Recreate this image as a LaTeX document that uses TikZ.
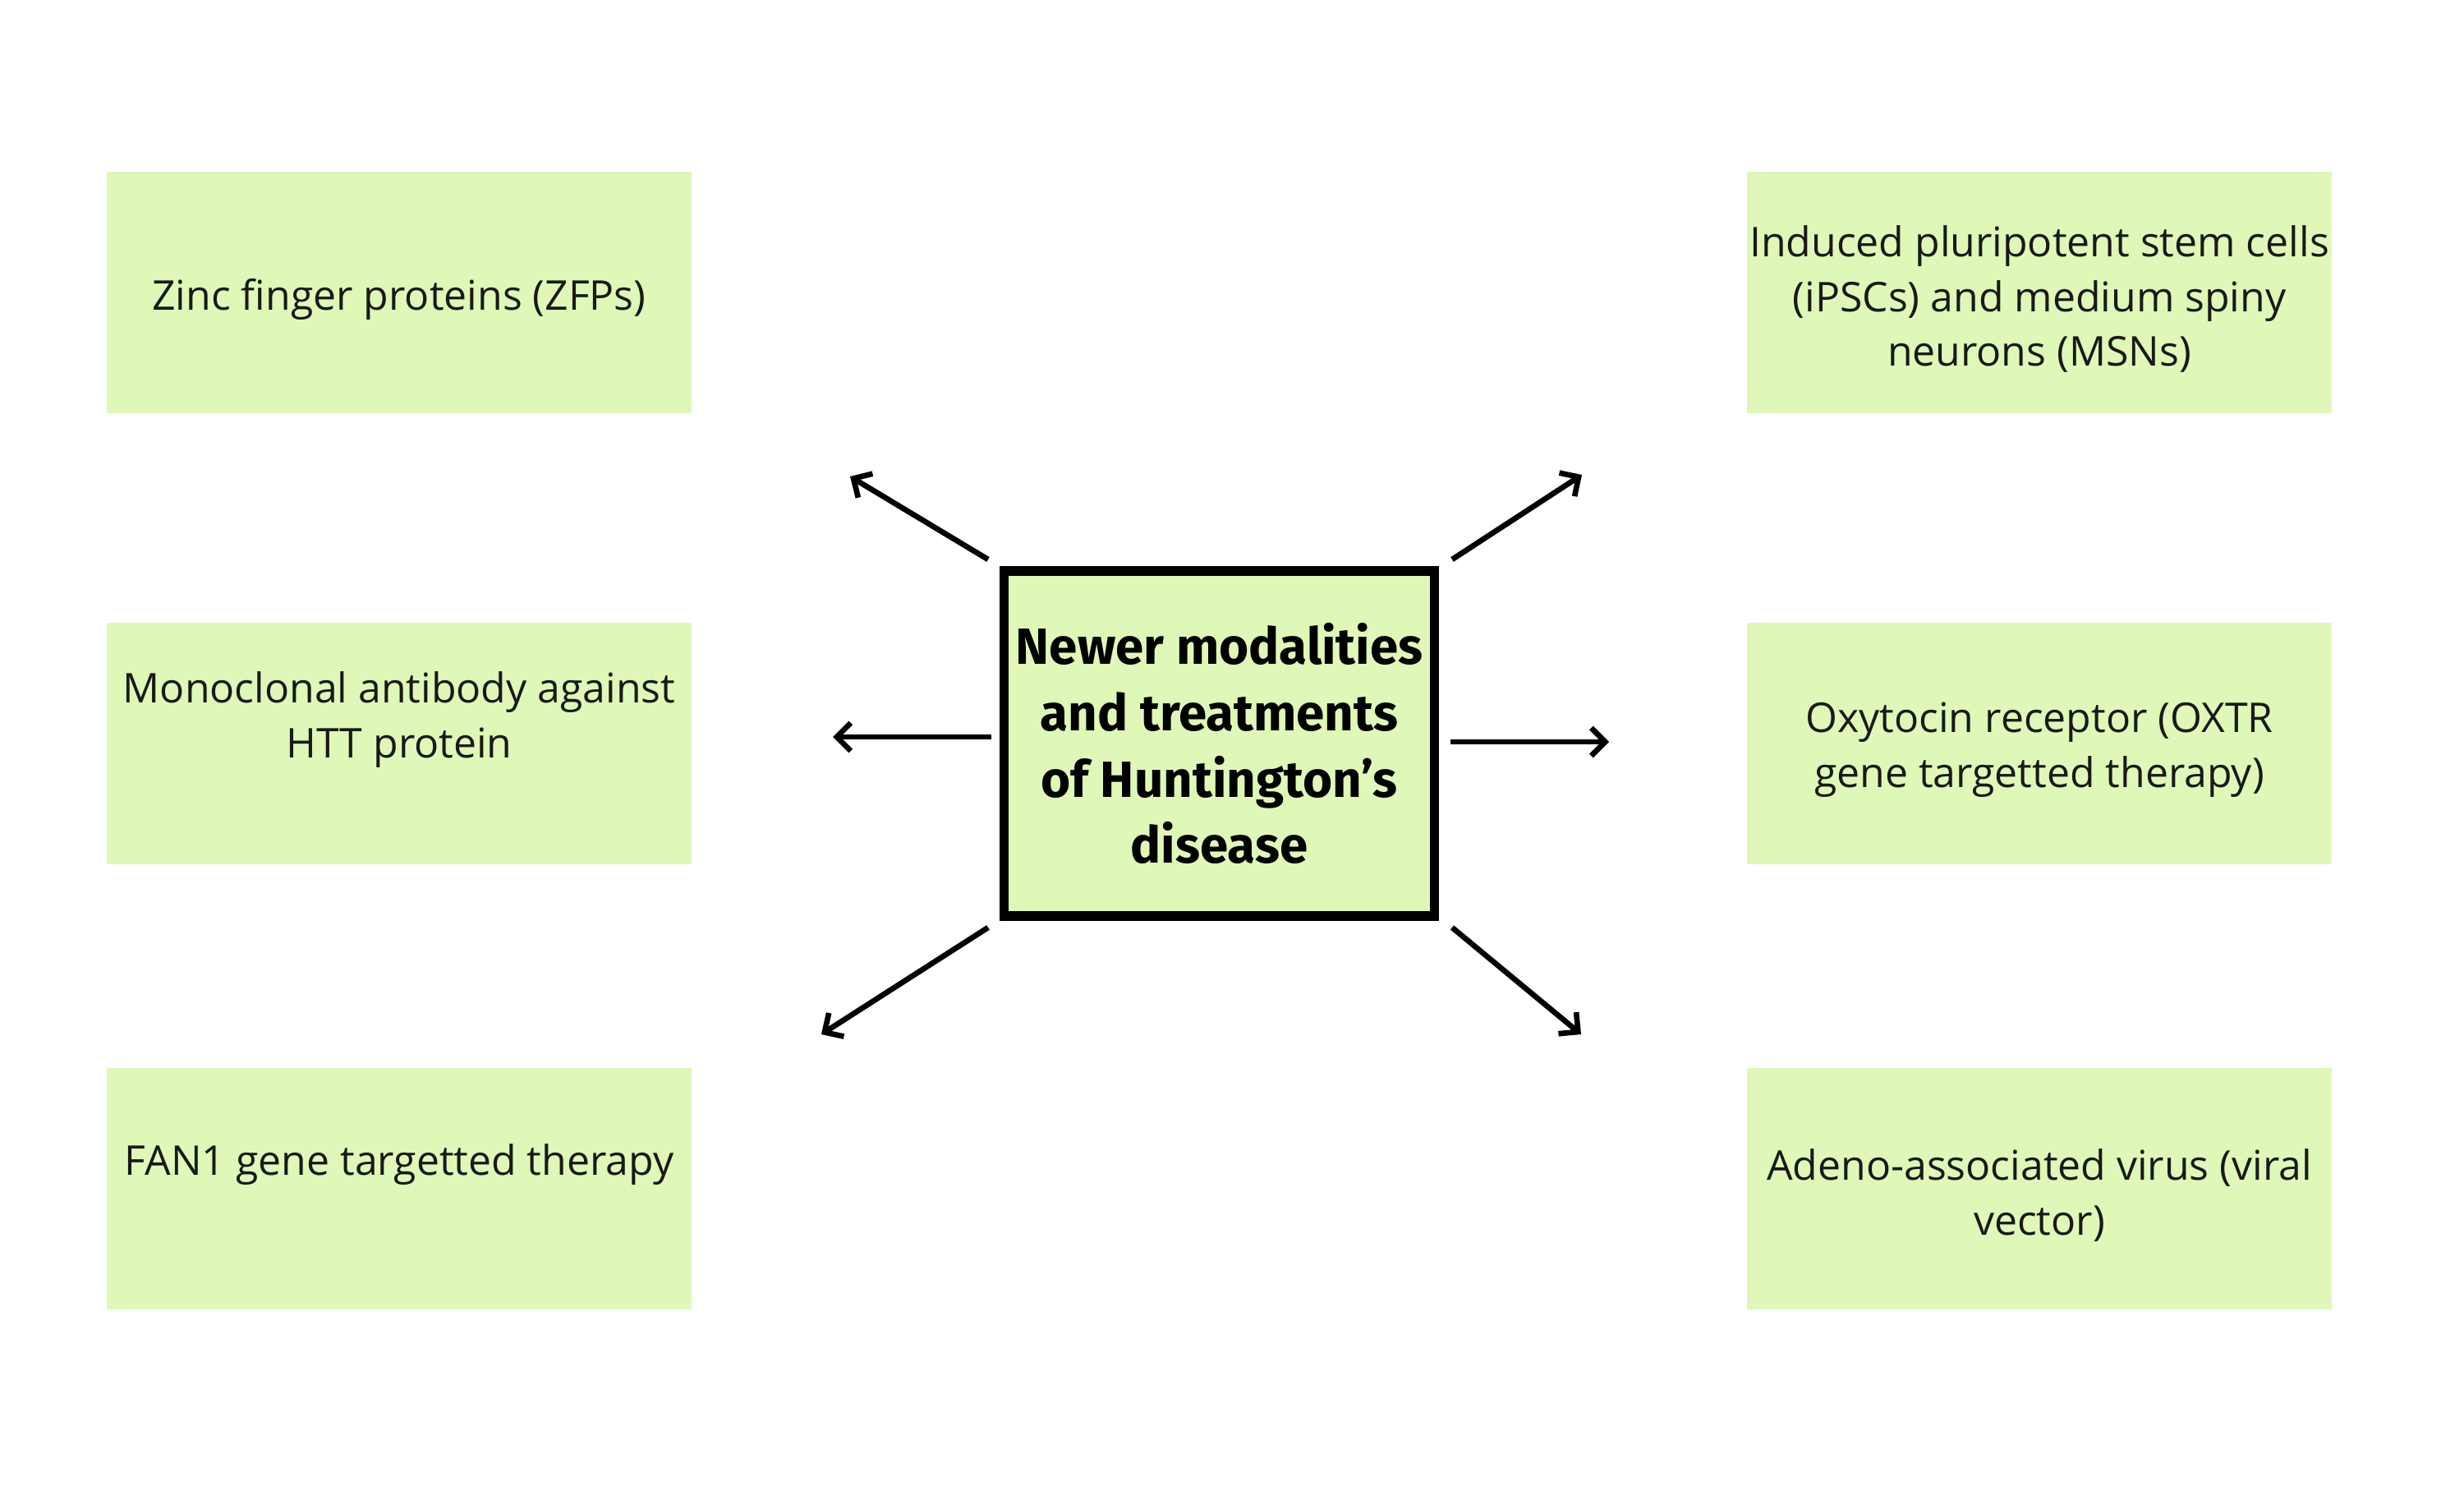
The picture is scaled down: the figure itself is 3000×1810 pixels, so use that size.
\documentclass[tikz,border=0pt]{standalone}
\usepackage{fontspec}
\setmainfont{Open Sans}
\newfontfamily\titlefont{Fira Sans}
\usetikzlibrary{arrows.meta}
\definecolor{boxgreen}{HTML}{DFF8B7}
\tikzset{
  every picture/.style={x=0.01cm,y=-0.01cm},
  itembox/.style={rectangle,fill=boxgreen,draw=none,minimum width=7.12cm,minimum height=2.93cm,
    inner sep=0pt,align=center},
  itemtext/.style={align=center,font=\fontsize{14.2}{19}\selectfont,text=black!90,inner sep=0pt},
  centerbox/.style={rectangle,fill=boxgreen,draw=black,line width=3.2pt,minimum width=5.23cm,
    minimum height=4.2cm,inner sep=0pt,align=center,font=\titlefont\bfseries\fontsize{17.6}{23}\selectfont},
  conn/.style={line width=1.9pt,-{Straight Barb[length=1.7mm,width=3.4mm,line width=1.9pt]}}
}
\begin{document}
\begin{tikzpicture}
\useasboundingbox[fill=white] (0,0) rectangle (3000,1810);
% left column
\node[itembox,label={[itemtext,yshift=-0.08cm]center:Zinc finger proteins (ZFPs)}] (zfp) at (486,356) {};
\node[itembox,label={[itemtext,yshift=0.29cm]center:Monoclonal antibody against\\HTT protein}] (mab) at (486,905) {};
\node[itembox,label={[itemtext,yshift=0.29cm]center:FAN1 gene targetted therapy}] (fan) at (486,1447) {};
% right column
\node[itembox,label={[itemtext,yshift=-0.08cm]center:Induced pluripotent stem cells\\(iPSCs) and medium spiny\\neurons (MSNs)}] (ipsc) at (2483,356) {};
\node[itembox,label={[itemtext,yshift=-0.08cm]center:Oxytocin receptor (OXTR\\gene targetted therapy)}] (oxtr) at (2483,905) {};
\node[itembox,label={[itemtext,yshift=-0.08cm]center:Adeno-associated virus (viral\\vector)}] (aav) at (2483,1447) {};
% center
\node[centerbox] (c) at (1484.5,905) {Newer modalities\\and treatments\\of Huntington’s\\disease};
% arrow endpoints
\coordinate (tl0) at (1203,681); \coordinate (tl1) at (1035,580);
\coordinate (ml0) at (1207,897); \coordinate (ml1) at (1014,897);
\coordinate (bl0) at (1203,1129); \coordinate (bl1) at (1000,1259);
\coordinate (tr0) at (1768,681); \coordinate (tr1) at (1926,578);
\coordinate (mr0) at (1766,903); \coordinate (mr1) at (1959,903);
\coordinate (br0) at (1768,1129); \coordinate (br1) at (1925,1259);
\draw[conn] (tl0) -- (tl1);
\draw[conn] (ml0) -- (ml1);
\draw[conn] (bl0) -- (bl1);
\draw[conn] (tr0) -- (tr1);
\draw[conn] (mr0) -- (mr1);
\draw[conn] (br0) -- (br1);
\end{tikzpicture}
\end{document}
